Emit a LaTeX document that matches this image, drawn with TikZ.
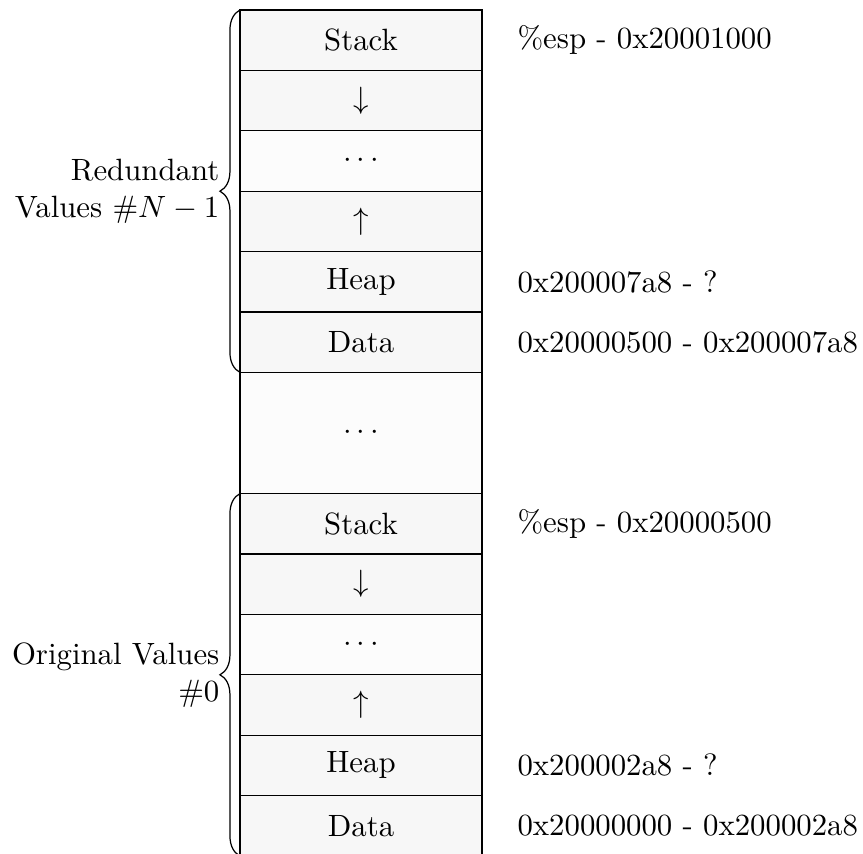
\documentclass[tikz,border=0pt]{standalone}
\usetikzlibrary{decorations.pathreplacing,calc}

\tikzset{
  cell/.style={draw, fill=gray!6, inner sep=0pt, outer sep=0pt,
    minimum width=78.6pt, minimum height=19.6pt},
  dotcell/.style={cell, fill=gray!2},
  gapcell/.style={dotcell, minimum height=39.2pt},
  addr/.style={anchor=west, xshift=8pt},
  grpbrace/.style={decorate, decoration={brace, amplitude=6.5pt}},
  grplabel/.style={anchor=east, align=right, inner sep=0pt},
}

\begin{document}
\begin{tikzpicture}[x=0.3247pt, y=0.3247pt]
  \useasboundingbox (0,0) rectangle (863,-854);

  % redundant copy #N-1
  \node[cell]    (s1)  at (361,-40.2)  {Stack};
  \node[cell]    (dn1) at (361,-100.6) {$\downarrow$};
  \node[dotcell] (dt1) at (361,-161.0) {$\cdots$};
  \node[cell]    (up1) at (361,-221.4) {$\uparrow$};
  \node[cell]    (h1)  at (361,-281.8) {Heap};
  \node[cell]    (d1)  at (361,-342.2) {Data};

  % unused region between the copies
  \node[gapcell] (gap) at (361,-432.8) {$\cdots$};

  % original copy #0
  \node[cell]    (s0)  at (361,-523.8) {Stack};
  \node[cell]    (dn0) at (361,-584.2) {$\downarrow$};
  \node[dotcell] (dt0) at (361,-644.6) {$\cdots$};
  \node[cell]    (up0) at (361,-705.0) {$\uparrow$};
  \node[cell]    (h0)  at (361,-765.4) {Heap};
  \node[cell]    (d0)  at (361,-825.8) {Data};

  % address ranges
  \node[addr] (as1) at (s1.east) {\%esp - 0x20001000};
  \node[addr] (ah1) at (h1.east) {0x200007a8 - ?};
  \node[addr] (ad1) at (d1.east) {0x20000500 - 0x200007a8};
  \node[addr] (as0) at (s0.east) {\%esp - 0x20000500};
  \node[addr] (ah0) at (h0.east) {0x200002a8 - ?};
  \node[addr] (ad0) at (d0.east) {0x20000000 - 0x200002a8};

  % group braces
  \draw[grpbrace] (d1.south west) -- (s1.north west);
  \draw[grpbrace] (d0.south west) -- (s0.north west);

  \node[grplabel] (g1) at ($(s1.north west)!0.5!(d1.south west) + (-20,0)$)
    {Redundant\\Values $\#N-1$};
  \node[grplabel] (g0) at ($(s0.north west)!0.5!(d0.south west) + (-20,0)$)
    {Original Values\\$\#0$};
\end{tikzpicture}
\end{document}
